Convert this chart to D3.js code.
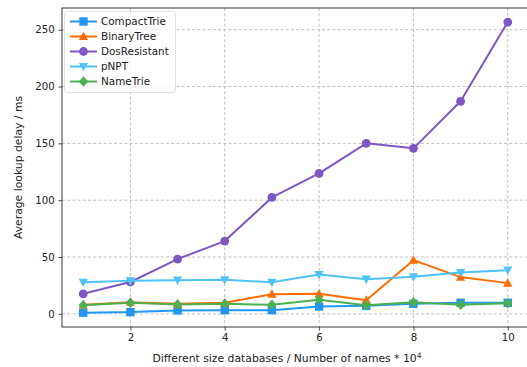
<!DOCTYPE html>
<html>
<head>
<meta charset="utf-8">
<script src="https://cdn.jsdelivr.net/npm/d3@7"></script>
<style>
  body { margin: 0; background: #fff; }
  svg { display: block; font-family: "DejaVu Sans", sans-serif; }
</style>
</head>
<body>
<svg id="chart" width="527" height="367"></svg>
<script>
// Database sizes (x 10^4 names)
const sizes = [1, 2, 3, 4, 5, 6, 7, 8, 9, 10];

// Average lookup delay (ms) per structure
const compactTrie  = [1.0, 1.5, 3.0, 3.2, 3.2, 6.5, 7.0, 8.8, 9.7, 9.7];
const binaryTree   = [7.9, 10.2, 8.8, 9.7, 17.3, 17.6, 12.0, 47.2, 32.3, 27.0];
const dosResistant = [17.6, 28.0, 48.2, 64.0, 102.4, 123.5, 150.0, 145.6, 187.0, 256.7];
const pNPT         = [27.8, 29.0, 29.6, 30.0, 27.8, 34.6, 30.5, 32.6, 36.3, 38.4];
const nameTrie     = [7.6, 9.7, 8.2, 8.8, 7.9, 12.3, 7.6, 10.2, 7.9, 9.4];

const xTicks = [2, 4, 6, 8, 10];
const yTicks = [0, 50, 100, 150, 200, 250];

const series = [
  { name: "CompactTrie",  values: compactTrie,  color: "#2196F3", marker: "square" },
  { name: "BinaryTree",   values: binaryTree,   color: "#FF6D00", marker: "triUp" },
  { name: "DosResistant", values: dosResistant, color: "#7E57C2", marker: "circle" },
  { name: "pNPT",         values: pNPT,         color: "#4FC3F7", marker: "triDown" },
  { name: "NameTrie",     values: nameTrie,     color: "#4CAF50", marker: "diamond" }
];

const svg = d3.select("#chart");
const plot = { left: 62, top: 8, right: 529, bottom: 327 };

const x = d3.scaleLinear().domain([0.55, 10.45]).range([plot.left, plot.right]);
const y = d3.scaleLinear().domain([-11.6, 269.1]).range([plot.bottom, plot.top]);

// Dashed grid
const grid = svg.append("g").attr("stroke", "#b0b0b0").attr("stroke-width", 0.8)
  .attr("stroke-dasharray", "3,2.2");
grid.selectAll(".gx").data(xTicks).join("line")
  .attr("x1", d => x(d)).attr("x2", d => x(d))
  .attr("y1", plot.top).attr("y2", plot.bottom);
grid.selectAll(".gy").data(yTicks).join("line")
  .attr("x1", plot.left).attr("x2", plot.right)
  .attr("y1", d => y(d)).attr("y2", d => y(d));

// Axes
const xAxis = d3.axisBottom(x).tickValues(xTicks).tickSize(3.6).tickPadding(3.6);
const yAxis = d3.axisLeft(y).tickValues(yTicks).tickSize(3.6).tickPadding(3.6);

function styleAxis(g) {
  g.select(".domain").remove();
  g.selectAll(".tick line").attr("stroke", "#222").attr("stroke-width", 0.8);
  g.selectAll(".tick text").attr("fill", "#222").style("font-size", "10.2px")
    .style("font-family", "DejaVu Sans, sans-serif");
}
svg.append("g").attr("transform", `translate(0,${plot.bottom})`).call(xAxis).call(styleAxis);
svg.append("g").attr("transform", `translate(${plot.left},0)`).call(yAxis).call(styleAxis);

// Frame
svg.append("rect")
  .attr("x", plot.left).attr("y", plot.top)
  .attr("width", plot.right - plot.left).attr("height", plot.bottom - plot.top)
  .attr("fill", "none").attr("stroke", "#222").attr("stroke-width", 0.9);

// Marker shapes
function markerPath(type, s) {
  switch (type) {
    case "square": return `M${-s},${-s}H${s}V${s}H${-s}Z`;
    case "triUp": return `M0,${-s * 1.15}L${s * 1.1},${s * 0.85}L${-s * 1.1},${s * 0.85}Z`;
    case "triDown": return `M0,${s * 1.15}L${s * 1.1},${-s * 0.85}L${-s * 1.1},${-s * 0.85}Z`;
    case "diamond": return `M0,${-s * 1.25}L${s * 1.1},0L0,${s * 1.25}L${-s * 1.1},0Z`;
    default: return null;
  }
}
function drawMarker(g, type, cx, cy, color, s) {
  if (type === "circle") {
    g.append("circle").attr("cx", cx).attr("cy", cy).attr("r", s * 1.05).attr("fill", color);
  } else {
    g.append("path").attr("d", markerPath(type, s))
      .attr("transform", `translate(${cx},${cy})`).attr("fill", color);
  }
}

const line = d3.line().x((d, i) => x(sizes[i])).y(d => y(d));

const marks = svg.append("g");
series.forEach(s => {
  const g = marks.append("g");
  g.append("path").datum(s.values).attr("d", line)
    .attr("fill", "none").attr("stroke", s.color).attr("stroke-width", 2)
    .attr("stroke-linejoin", "round");
  s.values.forEach((v, i) => drawMarker(g, s.marker, x(sizes[i]), y(v), s.color, 4.2));
});

// Legend
const legend = svg.append("g");
legend.append("rect").attr("x", 64.5).attr("y", 11.5).attr("width", 111).attr("height", 81)
  .attr("rx", 2.5).attr("fill", "#fff").attr("fill-opacity", 0.8)
  .attr("stroke", "#d8d8d8").attr("stroke-width", 0.8);
series.forEach((s, i) => {
  const cy = 21.5 + i * 15;
  legend.append("line").attr("x1", 70).attr("x2", 97).attr("y1", cy).attr("y2", cy)
    .attr("stroke", s.color).attr("stroke-width", 2);
  drawMarker(legend, s.marker, 83.5, cy, s.color, 4.2);
  legend.append("text").attr("x", 101).attr("y", cy).attr("dy", "0.36em")
    .attr("fill", "#222").style("font-size", "10.4px").text(s.name);
});

// Axis labels
svg.append("text")
  .attr("transform", `translate(22,${(plot.top + plot.bottom) / 2}) rotate(-90)`)
  .attr("text-anchor", "middle").attr("fill", "#222").style("font-size", "10.8px")
  .text("Average lookup delay / ms");

const xl = svg.append("text")
  .attr("x", 287).attr("y", 362)
  .attr("text-anchor", "middle").attr("fill", "#222").style("font-size", "10.8px");
xl.append("tspan").text("Different size databases / Number of names * 10");
xl.append("tspan").attr("dy", "-4.5").style("font-size", "7.6px").text("4");
</script>
</body>
</html>
